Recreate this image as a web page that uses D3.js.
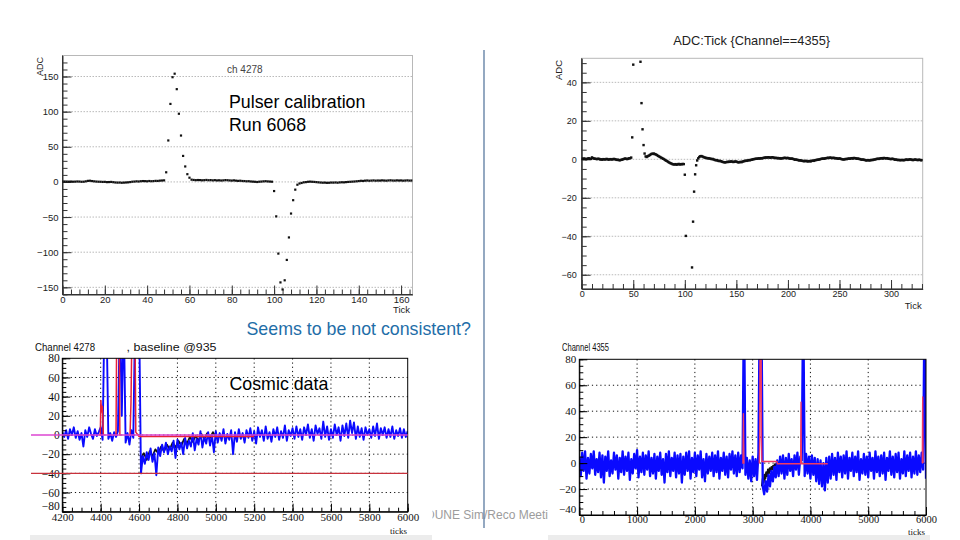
<!DOCTYPE html>
<html><head><meta charset="utf-8">
<script src="https://cdn.jsdelivr.net/npm/d3@7"></script>
<style>html,body{margin:0;padding:0;background:#fff;}svg{display:block;}</style>
</head><body><svg id="c" width="960" height="540"></svg>
<script>
// ---------------- DATA ----------------
// Top-left: pulser run 6068, channel 4278, ADC per tick (index = tick)
const pulser4278 = [
0.5,0.6,0.5,0.4,0.5,0.3,0.4,0.6,0.5,0.2,
0.3,0.8,1.5,1.7,1.2,0.8,0.5,0.3,0.2,0.0,
0.1,-0.3,-0.2,0.0,-0.4,-0.8,-1.0,-0.9,-1.2,-1.0,
-0.8,-0.6,-0.2,0.3,0.5,0.8,0.6,1.0,1.2,1.1,
0.9,1.3,1.0,1.2,1.5,1.4,1.8,2.0,2.2,13.7,
59,111,149,154,132,97,66,37,22,11,
6,3.2,2.8,2.5,2.7,2.6,2.3,2.5,2.8,2.4,
2.6,2.2,2.5,2.1,2.3,2.0,2.2,2.6,2.4,2.1,
1.9,2.2,1.8,1.5,1.7,1.3,1.2,0.9,1.0,0.6,
0.4,0.2,-0.1,0.3,0.5,0.8,1.0,0.7,0.5,0.3,
-13,-49,-102,-143,-153,-140,-111,-79,-45,-26,
-11,-4,-2.2,-1.5,-0.6,-0.3,0.2,0.4,0.2,0.0,
-0.3,-0.6,-0.9,-1.1,-1.0,-1.3,-1.2,-0.9,-1.0,-0.8,
-1.1,-0.7,-0.5,-0.6,-0.3,0.0,0.2,0.4,0.6,0.9,
1.2,1.6,1.4,1.8,2.0,1.7,1.9,2.1,1.8,2.0,
1.9,2.2,2.0,1.8,2.1,2.3,2.0,1.9,2.2,2.0,
2.1,1.8,2.0,2.2,1.9,2.0];
// Top-right: channel 4355 (null = off scale)
const pulser4355 = [
0.3,0.2,0.4,0.3,0.1,0.2,0.4,0.5,0.3,0.2,
1.0,0.6,0.4,0.3,0.2,0.1,0.3,0.2,-0.1,0.0,
-0.2,0.1,0.0,-0.1,0.2,0.1,-0.2,0.0,0.1,-0.1,
0.0,0.2,0.1,-0.1,-0.3,-0.2,-0.4,-0.5,-0.3,-0.2,
0.0,0.2,0.4,0.3,0.1,0.3,0.5,0.6,0.9,11.4,
49.2,null,null,null,null,null,null,50.7,29.2,15.6,
7.4,3.0,1.5,1.2,1.6,1.9,2.2,2.6,2.9,2.8,
3.0,2.7,2.5,2.2,1.8,1.5,1.2,0.9,0.6,0.3,
0.0,-0.4,-0.7,-1.0,-1.4,-1.7,-2.0,-2.2,-2.5,-2.6,
-2.7,-2.5,-2.8,-2.6,-2.4,-2.7,-2.5,-2.6,-2.4,-2.5,
-8.0,-39.8,null,null,null,null,null,-56.2,-32.4,-16.8,
-7.8,-3.1,-0.6,0.5,1.2,1.6,1.7,1.5,1.2,1.0,
0.8,0.7,0.5,0.6,0.4,0.3,0.1,0.2,-0.1,-0.3,
-0.5,-0.4,-0.7,-0.9,-0.8,-1.0,-1.2,-1.4,-1.5,-1.6,
-1.5,-1.3,-1.4,-1.2,-1.3,-1.1,-1.2,-1.4,-1.3,-1.1,
-1.2,-1.4,-1.6,-1.5,-1.3,-1.5,-1.2,-1.0,-0.9,-0.7,
-0.8,-0.6,-0.4,-0.5,-0.3,-0.2,0.0,0.1,0.2,0.3,
0.3,0.4,0.5,0.4,0.6,0.5,0.7,0.8,0.9,1.0,
0.9,1.1,1.0,0.8,1.0,1.1,0.9,0.7,0.8,0.6,
0.7,0.5,0.6,0.4,0.5,0.6,0.7,0.8,0.6,0.7,
0.7,0.5,0.4,0.3,0.4,0.2,0.0,-0.2,-0.1,-0.3,
-0.4,-0.6,-0.5,-0.7,-0.8,-0.9,-1.0,-0.8,-0.9,-1.1,
-1.0,-0.9,-1.1,-0.8,-0.7,-0.8,-0.5,-0.4,-0.3,-0.2,
-0.1,0.0,0.2,0.3,0.4,0.3,0.5,0.6,0.7,0.8,
0.7,0.9,0.8,0.6,0.8,0.7,0.5,0.6,0.4,0.3,
0.5,0.3,0.1,0.0,-0.1,0.0,0.2,0.1,0.3,0.4,
0.3,0.5,0.6,0.4,0.7,0.6,0.5,0.3,0.4,0.2,
0.1,-0.1,-0.2,-0.1,-0.3,-0.4,-0.6,-0.5,-0.4,-0.6,
-0.5,-0.3,-0.4,-0.2,-0.1,0.0,0.2,0.3,0.2,0.4,
0.5,0.6,0.4,0.7,0.6,0.5,0.6,0.4,0.3,0.2,
0.1,0.3,0.2,0.0,-0.2,-0.1,-0.3,-0.4,-0.3,-0.5,
-0.4,-0.3,-0.5,-0.4,-0.2,-0.1,-0.3,-0.2,0.0,-0.1,
-0.2,-0.4,-0.3,-0.1,-0.2,-0.3,-0.4,-0.2,-0.3,-0.5,
-0.4];
// Bottom-left: cosmic data channel 4278, raw (blue) sampled every 10 ticks from 4200
const cosmic4278Start = 4200, cosmic4278Step = 10;
const cosmic4278Blue = [
3,-2,5,-4,6,0,8,-3,4,-5,
2,-12,5,-2,8,1,-4,6,-1,3,
8,-5,130,130,-4,2,-6,3,-2,4,
130,20,130,-8,2,-10,5,-3,130,130,
130,-40,-22,-30,-18,-26,-14,-28,-19,-42,
-13,-22,-10,-18,-8,-20,-12,-17,-6,-24,
-5,-15,-8,-20,-3,-14,-6,-12,2,-16,
-4,-10,4,-13,-2,-9,3,-11,0,-18,
4,-8,2,-6,6,-9,1,-5,5,-20,
3,-7,6,-4,2,-8,5,-3,7,-6,
4,-9,8,-2,5,-6,9,-4,3,-7,
6,-2,8,-5,4,-3,10,-6,5,-1,
7,-4,9,-2,6,-5,8,0,11,-3,
6,-6,10,1,7,-4,14,-2,9,-5,
6,-3,11,0,8,-6,10,-1,12,-3,
15,2,13,-4,9,-2,7,-5,8,0,
6,-3,9,-1,12,-4,7,0,8,-3,
6,-2,9,-4,5,-1,7,-3,6,-2,
4];
const cosmic4278BlackTicks = [4610,4625,4640,4655,4670,4685,4700,4715,4730,4745,4760,4775,4790,4805,4820,4835,4850,4865,4880,4895,4910,4925,4940,4955,4970,4985,5000];
const cosmic4278BlackVals  = [-24,-19,-26,-17,-22,-15,-19,-12,-17,-10,-15,-8,-13,-6,-11,-4,-9,-2,-7,-1,-6,1,-4,2,-3,3,-2];
const cosmic4278RedTicks = [4392,4398,4401,4405,4409,4414,null,4474,4480,4484,4496,4500,4506,null,4548,4553,4558,4564,4578,4583,4600,4610,5200];
const cosmic4278RedVals  = [0,0,36,24,30,0,null,0,0,130,130,0,0,null,0,0,34,130,130,3,-1.5,-1.5,-1.5];
const cosmic4278Levels = [0,-40];
// Bottom-right: channel 4355, raw (blue) every 25 ticks from 0
const cosmic4355Start = 0, cosmic4355Step = 25;
const cosmic4355Blue = [
5,-10,8,-6,9,-12,4,-8,7,-4,
9,-9,3,-7,8,-11,6,-15,5,-6,
9,-10,2,-8,8,-5,6,-12,4,-7,
9,-9,5,-6,8,-13,3,-8,7,-4,
10,-11,5,-7,8,-9,6,-5,9,-10,
4,-8,7,-12,5,-6,8,-9,3,-15,
7,-7,9,-10,4,-6,8,-11,6,-8,
7,-15,5,-9,8,-6,9,-12,4,-7,
8,-10,6,-5,9,-11,3,-14,7,-8,
5,-6,8,-10,6,-7,9,-12,4,-6,
8,-9,5,-11,7,-5,9,-8,6,-10,
8,-7,6,-4,130,-9,4,-12,2,-14,
5,-10,3,-13,8,130,130,-18,-24,-14,
-22,-9,-18,-6,-14,-3,-11,2,-10,5,
-8,6,-12,4,-9,7,-6,3,-10,6,
-5,8,-9,5,2,130,-10,7,-8,5,
-12,6,-9,4,-14,3,-16,2,-18,0,
-21,4,-15,5,-12,7,-9,4,-13,8,
-7,5,-11,6,-8,9,-12,4,-6,8,
-10,5,-7,9,-13,3,-8,7,-9,5,
-11,8,-6,4,-12,9,-7,5,-10,6,
-8,8,-13,4,-6,9,-9,5,-11,7,
-7,8,-12,3,-8,9,-10,6,-6,8,
-11,5,-8,9,-9,6,-7,8,-5,130,
-12];
const cosmic4355BlackTicks = [3160,3175,3190,3205,3220,3235,3250,3265,3280,3295,3310,3325,3340,3355,3370,3385,3400,3415,3430];
const cosmic4355BlackVals  = [-18,-12,-15,-9,-12,-7,-10,-5,-8,-4,-6,-3,-5,-2,-3,-1,-2,0,-1];
const cosmic4355RedTicks = [2820,2832,2840,2848,2860,null,3105,3115,3122,3130,3145,3152,3160,3420,3430,3830,3837,3844,4300,null,5930,5936,5943,5950];
const cosmic4355RedVals  = [0,0,38,0,0,null,0,0,18,130,130,20,1.2,1.2,-0.5,-0.5,47,-0.5,-0.5,null,0,0,51,0];

// tick labels
const p1XTicks = [0,20,40,60,80,100,120,140,160];
const p1YTicks = [-150,-100,-50,0,50,100,150];
const p2XTicks = [0,50,100,150,200,250,300];
const p2YTicks = [-60,-40,-20,0,20,40];
const p3XTicks = [4200,4400,4600,4800,5000,5200,5400,5600,5800,6000];
const p3YTicks = [-80,-60,-40,-20,0,20,40,60,80];
const p4XTicks = [0,1000,2000,3000,4000,5000,6000];
const p4YTicks = [-40,-20,0,20,40,60,80];

// ---------------- DRAW ----------------
const svg = d3.select("#c");
svg.append("rect").attr("width",960).attr("height",540).attr("fill","#fff");
const SANS = "'Liberation Sans', Arial, sans-serif";
const SERIF = "'Liberation Serif', 'Times New Roman', serif";
const fmt = d3.format("d");

// footer text (partly hidden behind the pasted plots)
svg.append("clipPath").attr("id","footclip").append("rect")
  .attr("x",432.5).attr("y",500).attr("width",115.5).attr("height",30);
svg.append("text").attr("x",426).attr("y",518.5).attr("font-family",SANS).attr("font-size",12)
  .attr("fill","#9c9c9c").attr("clip-path","url(#footclip)").text("DUNE Sim/Reco Meeting");
svg.append("rect").attr("x",30).attr("y",535).attr("width",402).attr("height",5).attr("fill","#ececec");
svg.append("rect").attr("x",548).attr("y",535).attr("width",382).attr("height",5).attr("fill","#ececec");

function panel(c){
  const g = svg.append("g");
  const x = d3.scaleLinear().domain(c.xd).range([c.x0,c.x1]);
  const y = d3.scaleLinear().domain(c.yd).range([c.y1,c.y0]);
  svg.append("clipPath").attr("id","clip"+c.id).append("rect")
    .attr("x",c.x0).attr("y",c.y0).attr("width",c.x1-c.x0).attr("height",c.y1-c.y0);
  return {g,x,y,c,clip:"url(#clip"+c.id+")"};
}
function axes(P, o){
  const c = P.c;
  P.g.append("g").attr("transform",`translate(${c.x0},0)`)
    .call(d3.axisLeft(P.y).tickValues(o.yMinor).tickSize(-o.minLen).tickFormat("").tickSizeOuter(0))
    .call(g=>g.select(".domain").remove()).attr("color",o.tickColor);
  P.g.append("g").attr("transform",`translate(0,${c.y1})`)
    .call(d3.axisBottom(P.x).tickValues(o.xMinor).tickSize(-o.minLen).tickFormat("").tickSizeOuter(0))
    .call(g=>g.select(".domain").remove()).attr("color",o.tickColor);
  const ya = P.g.append("g").attr("transform",`translate(${c.x0},0)`)
    .call(d3.axisLeft(P.y).tickValues(o.yMajor).tickSize(-o.majLen).tickPadding(o.yPad).tickSizeOuter(0).tickFormat(fmt));
  ya.attr("font-family",o.font).attr("font-size",o.fs).attr("color",o.tickColor);
  ya.selectAll("text").attr("fill",o.textColor);
  const xa = P.g.append("g").attr("transform",`translate(0,${c.y1})`)
    .call(d3.axisBottom(P.x).tickValues(o.xMajor).tickSize(-o.majLen).tickPadding(o.xPad).tickSizeOuter(0).tickFormat(fmt));
  xa.attr("font-family",o.font).attr("font-size",o.xfs||o.fs).attr("color",o.tickColor);
  xa.selectAll("text").attr("fill",o.textColor);
  return {ya,xa};
}
function hgrid(P, vals, color, dash, w){
  P.g.append("g").selectAll("line").data(vals).join("line")
    .attr("x1",P.c.x0).attr("x2",P.c.x1).attr("y1",d=>P.y(d)).attr("y2",d=>P.y(d))
    .attr("stroke",color).attr("stroke-width",w).attr("stroke-dasharray",dash);
}
function vgrid(P, vals, color, dash, w){
  P.g.append("g").selectAll("line").data(vals).join("line")
    .attr("y1",P.c.y0).attr("y2",P.c.y1).attr("x1",d=>P.x(d)).attr("x2",d=>P.x(d))
    .attr("stroke",color).attr("stroke-width",w).attr("stroke-dasharray",dash);
}

// ---- Panel 1 ----
const P1 = panel({id:1,x0:62.5,x1:412.5,y0:55.5,y1:294.5,xd:[0,165.4],yd:[-160.2,179.9]});
hgrid(P1, p1YTicks, "#a8a8a8", "1.5,1.5", 0.8);
P1.g.append("rect").attr("x",62.5).attr("y",55.5).attr("width",350).attr("height",239)
  .attr("fill","none").attr("stroke","#b8b8b8").attr("stroke-width",1);
P1.g.append("path").attr("d","M62.5,55.5V294.5H412.5").attr("fill","none").attr("stroke","#333");
axes(P1,{xMajor:p1XTicks,xMinor:d3.range(0,165.4,4),yMajor:p1YTicks,yMinor:d3.range(-160,180,10),
  majLen:9,minLen:5,yPad:4,xPad:2,font:SANS,fs:9.5,tickColor:"#333",textColor:"#222"});
P1.g.append("g").attr("clip-path",P1.clip).selectAll("rect")
  .data(pulser4278.map((v,i)=>[i,v]).filter(d=>d[1]!=null)).join("rect")
  .attr("x",d=>P1.x(d[0])-1.1).attr("y",d=>P1.y(d[1])-1.1).attr("width",2.2).attr("height",2.2).attr("fill","#111");
svg.append("text").attr("x",410).attr("y",313).attr("text-anchor","end").attr("font-family",SANS).attr("font-size",9.5).attr("fill","#222").text("Tick");
svg.append("text").attr("transform","translate(43,57) rotate(-90)").attr("text-anchor","end").attr("font-family",SANS).attr("font-size",9).attr("fill","#222").text("ADC");
svg.append("text").attr("x",227).attr("y",73).attr("font-family",SANS).attr("font-size",10).attr("fill","#444").text("ch 4278");

// ---- Panel 2 ----
const P2 = panel({id:2,x0:581.7,x1:922.7,y0:58.3,y1:289,xd:[0,330.7],yd:[-67.4,52.5]});
hgrid(P2, p2YTicks, "#a8a8a8", "1.5,1.5", 0.8);
P2.g.append("rect").attr("x",581.7).attr("y",58.3).attr("width",341).attr("height",230.7)
  .attr("fill","none").attr("stroke","#b8b8b8").attr("stroke-width",1);
P2.g.append("path").attr("d","M581.7,58.3V289H922.7").attr("fill","none").attr("stroke","#333");
axes(P2,{xMajor:p2XTicks,xMinor:d3.range(0,330.7,10),yMajor:p2YTicks,yMinor:d3.range(-65,52.5,5),
  majLen:9,minLen:5,yPad:5,xPad:2,font:SANS,fs:9,tickColor:"#333",textColor:"#222"});
P2.g.append("g").attr("clip-path",P2.clip).selectAll("rect")
  .data(pulser4355.map((v,i)=>[i,v]).filter(d=>d[1]!=null)).join("rect")
  .attr("x",d=>P2.x(d[0])-1.2).attr("y",d=>P2.y(d[1])-1.2).attr("width",2.4).attr("height",2.4).attr("fill","#111");
svg.append("text").attr("x",921.7).attr("y",309).attr("text-anchor","end").attr("font-family",SANS).attr("font-size",9.5).attr("fill","#222").text("Tick");
svg.append("text").attr("transform","translate(562,60) rotate(-90)").attr("text-anchor","end").attr("font-family",SANS).attr("font-size",9.5).attr("fill","#222").text("ADC");
svg.append("text").attr("x",751.7).attr("y",44.5).attr("text-anchor","middle").attr("font-family",SANS).attr("font-size",12.8).attr("fill","#222").text("ADC:Tick {Channel==4355}");

// ---- Panel 3 ----
const P3 = panel({id:3,x0:62.3,x1:407.7,y0:358.3,y1:511.7,xd:[4200,6000],yd:[-80,80]});
hgrid(P3, p3YTicks.slice(1,-1), "#111", "1.2,3", 1);
vgrid(P3, p3XTicks.slice(1,-1), "#111", "1.2,3", 1);
const lineIdx = (P,start,step)=>d3.line().x((d,i)=>P.x(start+step*i)).y(d=>P.y(d));
const linePairs = (P)=>d3.line().defined(d=>d[0]!=null&&d[1]!=null).x(d=>P.x(d[0])).y(d=>P.y(d[1]));
const d3g = P3.g.append("g").attr("clip-path",P3.clip);
d3g.append("path").attr("d",linePairs(P3)(cosmic4278BlackTicks.map((t,i)=>[t,cosmic4278BlackVals[i]])))
  .attr("fill","none").attr("stroke","#111").attr("stroke-width",1.8).attr("stroke-linejoin","round");
d3g.append("path").attr("d",lineIdx(P3,cosmic4278Start,cosmic4278Step)(cosmic4278Blue))
  .attr("fill","none").attr("stroke","#0a0aff").attr("stroke-width",1.9).attr("stroke-linejoin","round");
d3g.append("path").attr("d",linePairs(P3)(cosmic4278RedTicks.map((t,i)=>[t,cosmic4278RedVals[i]])))
  .attr("fill","none").attr("stroke","#e8203a").attr("stroke-width",1.5).attr("stroke-linejoin","round");
const levelColors = ["#dc46d2","#c8323c"];
svg.append("g").selectAll("line").data(cosmic4278Levels).join("line")
  .attr("x1",31).attr("x2",407.7).attr("y1",d=>P3.y(d)).attr("y2",d=>P3.y(d))
  .attr("stroke",(d,i)=>levelColors[i]).attr("stroke-width",1.3);
P3.g.append("rect").attr("x",62.3).attr("y",358.3).attr("width",345.4).attr("height",153.4)
  .attr("fill","none").attr("stroke","#000").attr("stroke-width",1);
const a3 = axes(P3,{xMajor:p3XTicks,xMinor:d3.range(4200,6001,50),yMajor:p3YTicks,yMinor:d3.range(-80,81,5),
  majLen:8,minLen:4,yPad:2.5,xPad:1.5,font:SERIF,fs:11.5,xfs:11,tickColor:"#000",textColor:"#111"});
a3.ya.selectAll("text").filter(d=>d===-80).attr("dy","-0.15em");
svg.append("text").attr("x",407).attr("y",534).attr("text-anchor","end").attr("font-family",SERIF).attr("font-size",9).attr("fill","#111").text("ticks");
svg.append("text").attr("x",35).attr("y",350.5).attr("font-family",SANS).attr("font-size",11.5)
  .attr("textLength",60).attr("lengthAdjust","spacingAndGlyphs").attr("fill","#111").text("Channel 4278");
svg.append("text").attr("x",126.5).attr("y",350.5).attr("font-family",SANS).attr("font-size",11.5)
  .attr("textLength",90).attr("lengthAdjust","spacingAndGlyphs").attr("fill","#111").text(", baseline @935");

// ---- Panel 4 ----
const P4 = panel({id:4,x0:579.3,x1:926,y0:359.3,y1:515,xd:[0,6000],yd:[-40,80]});
hgrid(P4, p4YTicks.slice(1,-1), "#111", "1.2,3", 1);
vgrid(P4, p4XTicks.slice(1,-1), "#111", "1.2,3", 1);
const d4g = P4.g.append("g").attr("clip-path",P4.clip);
d4g.append("path").attr("d",linePairs(P4)(cosmic4355BlackTicks.map((t,i)=>[t,cosmic4355BlackVals[i]])))
  .attr("fill","none").attr("stroke","#111").attr("stroke-width",2).attr("stroke-linejoin","round");
d4g.append("path").attr("d",lineIdx(P4,cosmic4355Start,cosmic4355Step)(cosmic4355Blue))
  .attr("fill","none").attr("stroke","#0a0aff").attr("stroke-width",2.3).attr("stroke-linejoin","round");
d4g.append("path").attr("d",linePairs(P4)(cosmic4355RedTicks.map((t,i)=>[t,cosmic4355RedVals[i]])))
  .attr("fill","none").attr("stroke","#f03a64").attr("stroke-width",1.4).attr("stroke-linejoin","round");
P4.g.append("rect").attr("x",579.3).attr("y",359.3).attr("width",346.7).attr("height",155.7)
  .attr("fill","none").attr("stroke","#000").attr("stroke-width",1);
const a4 = axes(P4,{xMajor:p4XTicks,xMinor:d3.range(0,6001,200),yMajor:p4YTicks,yMinor:d3.range(-40,81,5),
  majLen:8,minLen:4,yPad:3,xPad:1,font:SERIF,fs:11,xfs:10.5,tickColor:"#000",textColor:"#111"});
a4.ya.selectAll("text").filter(d=>d===-40).attr("dy","-0.2em");
a4.xa.selectAll("text").filter(d=>d===0).attr("dx","0.25em");
svg.append("text").attr("x",925).attr("y",534.5).attr("text-anchor","end").attr("font-family",SERIF).attr("font-size",9).attr("fill","#111").text("ticks");
svg.append("text").attr("x",562).attr("y",351).attr("font-family",SANS).attr("font-size",11)
  .attr("textLength",47).attr("lengthAdjust","spacingAndGlyphs").attr("fill","#111").text("Channel 4355");

// ---- slide annotations ----
const ann = [
  {t:"Pulser calibration",x:229,y:108.3,c:"#000"},
  {t:"Run 6068",x:229,y:130.5,c:"#000"},
  {t:"Seems to be not consistent?",x:246.5,y:334.5,c:"#1f6ea8"},
  {t:"Cosmic data",x:229.5,y:389.5,c:"#000"}
];
svg.append("g").selectAll("text").data(ann).join("text")
  .attr("x",d=>d.x).attr("y",d=>d.y).attr("fill",d=>d.c)
  .attr("font-family",SANS).attr("font-size",17.8).text(d=>d.t);

// divider
svg.append("line").attr("x1",484).attr("x2",484).attr("y1",50).attr("y2",528)
  .attr("stroke","#5a7aa0").attr("stroke-width",1.3);
</script></body></html>
